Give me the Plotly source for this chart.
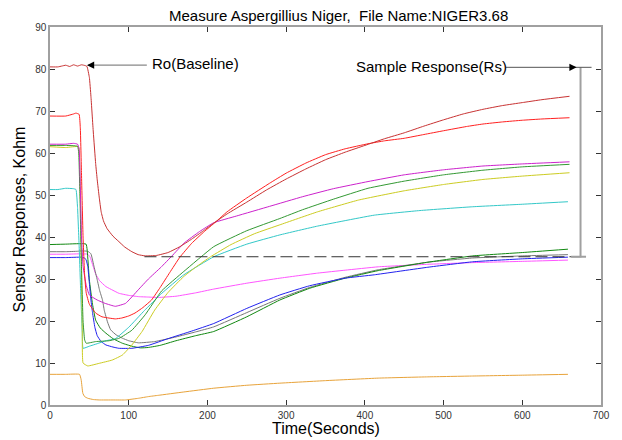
import plotly.graph_objects as go

# ---- data ----
t_darkred = [0, 10, 15, 20, 25, 30, 35, 40, 45, 47, 50, 52, 55, 58, 60, 62.5, 65, 68, 72.5, 80, 87.5, 95, 104, 112, 121, 135, 150, 165, 180, 195, 208, 225, 250, 275, 300, 325, 350, 375, 400, 425, 450, 475, 500, 525, 550, 575, 600, 625, 660]
y_darkred = [80.5, 80.5, 80.7, 80.9, 80.6, 81.0, 80.7, 81.0, 80.8, 80.6, 78, 73.5, 65, 57.5, 53.6, 49.5, 46, 43.8, 42, 40.2, 38.9, 37.6, 36.5, 35.8, 35.5, 35.6, 36.3, 37.7, 39.5, 41.5, 43.3, 45.5, 48.3, 51.2, 53.8, 56.2, 58.4, 60.2, 61.8, 63.4, 64.8, 66.4, 67.9, 69.3, 70.4, 71.3, 72.0, 72.7, 73.5]

t_red = [0, 20, 30, 33, 37, 38.5, 40, 42, 44, 46, 50, 58, 66, 75, 83, 91, 100, 108, 118, 129, 140, 152, 165, 180, 196, 210, 225, 250, 279, 300, 325, 350, 375, 404, 425, 450, 475, 500, 529, 550, 575, 600, 625, 660]
y_red = [68.8, 68.8, 69.3, 69.5, 69.2, 66, 55, 40, 31, 26.7, 24, 21.9, 21, 20.7, 20.5, 20.7, 21.2, 21.9, 23.2, 25, 28, 31.5, 35.2, 38.5, 41.3, 43.5, 46, 49.3, 52.8, 55.2, 57.6, 59.6, 61.0, 62.2, 62.9, 63.5, 64.4, 65.3, 66.3, 66.9, 67.4, 67.8, 68.1, 68.4]

t_magenta = [0, 20, 30, 35, 37, 38.5, 40, 42, 46, 50, 60, 70, 83, 96, 112, 125, 141, 155, 170, 190, 208, 237, 279, 321, 360, 404, 450, 500, 550, 600, 660]
y_magenta = [62.1, 62.1, 62.3, 62.1, 61, 52, 40, 33, 28.5, 26.2, 25, 24.2, 23.5, 24.2, 27.4, 30, 32.8, 35.5, 38.5, 41.3, 43.4, 45, 47.3, 49.6, 51.5, 53.2, 54.8, 56, 56.9, 57.4, 57.9]

t_yellow = [0, 20, 36, 37.5, 39, 40, 41, 42, 48, 62, 79, 92, 104, 117, 133, 150, 170, 185, 204, 230, 260, 292, 340, 392, 450, 500, 550, 600, 660]
y_yellow = [61.5, 61.3, 61.5, 58, 45, 30, 18, 10, 9.3, 9.9, 10.7, 11.9, 14.3, 17.5, 22.6, 26.8, 30.6, 32.8, 35.3, 38.2, 40.8, 42.9, 46, 48.8, 51, 52.5, 53.7, 54.5, 55.3]

t_green1 = [0, 20, 35, 36.5, 38, 40, 42, 44, 46, 58, 75, 88, 104, 121, 142, 170, 208, 250, 292, 321, 360, 404, 450, 500, 550, 600, 660]
y_green1 = [61.8, 61.8, 61.6, 60, 50, 33, 20, 15.5, 14.7, 15.1, 15.3, 15.9, 17.8, 21.5, 27.2, 31.8, 37.7, 41.5, 44.4, 46.5, 49, 51.6, 53.3, 54.8, 55.9, 56.7, 57.3]

t_cyan = [0, 10, 20, 30, 33, 35, 37, 39, 41, 42, 50, 60, 71, 83, 100, 120, 142, 170, 208, 250, 292, 340, 412, 470, 537, 600, 658]
y_cyan = [51.3, 51.3, 51.6, 51.5, 51.3, 47, 38, 27, 17, 13.5, 14, 14.6, 15.3, 15.8, 18.5, 22.5, 26.6, 31, 35.3, 38.3, 40.5, 42.6, 45.2, 46.3, 47.2, 47.8, 48.4]

t_green2 = [0, 20, 45.8, 48, 50, 54, 58, 64, 71, 80, 92, 104, 115, 125, 140, 160, 185, 208, 250, 292, 330, 375, 417, 480, 537, 600, 658]
y_green2 = [38.2, 38.3, 38.3, 35, 29.8, 24, 20.2, 18.3, 17.1, 15.8, 14.7, 14, 13.6, 13.7, 14.2, 15.3, 16.5, 17.5, 21, 25, 27.8, 30.2, 32, 34, 35.5, 36.3, 37.1]

t_gray = [0, 20, 35, 40, 48, 52, 56, 60, 63, 66.7, 69, 73, 77, 84, 92, 100, 112.5, 133, 160, 185, 208, 250, 292, 330, 375, 417, 480, 537, 600, 658]
y_gray = [36.5, 36.5, 36.6, 36.7, 36.6, 36, 32.9, 29.8, 27.3, 25, 22.5, 19.8, 17.9, 16.7, 15.9, 15.3, 14.8, 15.1, 16.2, 17.4, 18.6, 22, 25.4, 28, 30.4, 32.2, 34, 35, 35.5, 35.8]

t_blue = [0, 20, 40, 44, 46, 48, 50, 52, 54, 57, 60, 65, 71, 80, 87.5, 104, 125, 150, 180, 208, 250, 292, 330, 375, 412, 480, 537, 600, 658]
y_blue = [35.1, 35.1, 35.2, 35.0, 34.5, 33, 29, 25, 22, 18.5, 16.5, 15.1, 14.3, 13.8, 13.5, 13.5, 14.2, 15.8, 17.6, 19.4, 23, 26.2, 28.4, 30.2, 31.0, 32.8, 34.1, 34.8, 35.2]

t_pink = [0, 20, 40, 48, 51, 54, 58, 63, 71, 80, 87.5, 100, 112.5, 125, 137.5, 160, 185, 208, 250, 292, 340, 375, 417, 480, 537, 600, 658]
y_pink = [35.9, 35.9, 36.0, 35.9, 35.2, 33.5, 31.2, 29.6, 28.2, 27.3, 26.6, 26.1, 25.8, 25.7, 25.6, 25.9, 26.7, 27.6, 29, 30.2, 31.4, 32.1, 32.9, 33.5, 33.9, 34.2, 34.5]

t_orange = [0, 20, 37.5, 39.6, 41.7, 44, 48, 55, 62.5, 80, 95.8, 112.5, 125, 137.5, 170, 208, 250, 292, 350, 417, 480, 537, 600, 658]
y_orange = [7.3, 7.3, 7.3, 6, 2.8, 2.0, 1.6, 1.3, 1.2, 1.2, 1.2, 1.6, 2.0, 2.3, 3.1, 4.0, 4.7, 5.2, 5.8, 6.4, 6.7, 6.9, 7.1, 7.3]

baseline_level = 35.3
baseline_x = [120, 680]
ro_level = 80.9
rs_level = 80.4
rs_x = 674

x_ticks = [0, 100, 200, 300, 400, 500, 600, 700]
y_ticks = [0, 10, 20, 30, 40, 50, 60, 70, 80, 90]

series = [
    (t_orange, y_orange, "#E8A33A"),
    (t_pink, y_pink, "#FF55FF"),
    (t_gray, y_gray, "#777777"),
    (t_green2, y_green2, "#118811"),
    (t_blue, y_blue, "#2222EE"),
    (t_cyan, y_cyan, "#33C8C8"),
    (t_yellow, y_yellow, "#CCCC22"),
    (t_green1, y_green1, "#339933"),
    (t_magenta, y_magenta, "#CC22CC"),
    (t_red, y_red, "#FF2020"),
    (t_darkred, y_darkred, "#C83232"),
]

fig = go.Figure()
for tx, ty, col in series:
    fig.add_trace(go.Scatter(x=tx, y=ty, mode="lines", line_shape="spline",
                             line=dict(color=col, width=1, smoothing=0.35), showlegend=False))

# dashed baseline reference
fig.add_trace(go.Scatter(x=baseline_x, y=[baseline_level, baseline_level], mode="lines",
                         line=dict(color="#333333", width=1, dash="12px,5px"), showlegend=False))
# vertical response bar
fig.add_trace(go.Scatter(x=[rs_x, rs_x], y=[baseline_level, rs_level], mode="lines",
                         line=dict(color="#A0A0A0", width=2), showlegend=False))
fig.add_trace(go.Scatter(x=[662, 681], y=[baseline_level, baseline_level], mode="lines",
                         line=dict(color="#A0A0A0", width=2), showlegend=False))
# top line for Rs
fig.add_trace(go.Scatter(x=[579, 688], y=[rs_level, rs_level], mode="lines",
                         line=dict(color="#555555", width=1), showlegend=False))
# Ro line
fig.add_trace(go.Scatter(x=[48, 123], y=[ro_level, ro_level], mode="lines",
                         line=dict(color="#888888", width=1.2), showlegend=False))

font_main = "Liberation Sans, Arial, sans-serif"

fig.add_annotation(x=47, y=ro_level, ax=56, ay=ro_level, xref="x", yref="y", axref="x", ayref="y",
                   text="", showarrow=True, arrowhead=2, arrowsize=1.2, arrowwidth=1.2, arrowcolor="#000000")
fig.add_annotation(x=669, y=rs_level, ax=660, ay=rs_level, xref="x", yref="y", axref="x", ayref="y",
                   text="", showarrow=True, arrowhead=2, arrowsize=1.2, arrowwidth=1.2, arrowcolor="#000000")

fig.add_annotation(x=127.5, y=81.2, xref="x", yref="y", text="Ro(Baseline)", showarrow=False,
                   xanchor="left", yanchor="middle", font=dict(family=font_main, size=15, color="#000000"))
fig.add_annotation(x=386, y=80.5, xref="x", yref="y", text="Sample Response(Rs)", showarrow=False,
                   xanchor="left", yanchor="middle", font=dict(family=font_main, size=15, color="#000000"))

fig.add_annotation(x=0.523, y=1.003, xref="paper", yref="paper",
                   text="Measure Aspergillius Niger,&nbsp; File Name:NIGER3.68", showarrow=False,
                   xanchor="center", yanchor="bottom", font=dict(family=font_main, size=15, color="#000000"))
fig.add_annotation(x=0.5, y=-0.062, xref="paper", yref="paper", text="Time(Seconds)", showarrow=False,
                   xanchor="center", yanchor="middle", font=dict(family=font_main, size=16, color="#000000"))
fig.add_annotation(x=-0.055, y=0.49, xref="paper", yref="paper", text="Sensor Responses, Kohm",
                   textangle=-90, showarrow=False, xanchor="center", yanchor="middle",
                   font=dict(family=font_main, size=16, color="#000000"))

axis_common = dict(showline=True, linecolor="#A0A0A0", linewidth=1.5, mirror="ticks",
                   ticks="inside", ticklen=5, tickcolor="#333333", tickwidth=1,
                   showgrid=False, zeroline=False,
                   tickfont=dict(family=font_main, size=10, color="#333333"))

fig.update_xaxes(range=[0, 700], tickvals=x_ticks, ticktext=[str(v) for v in x_ticks], **axis_common)
fig.update_yaxes(range=[0, 90], tickvals=y_ticks, ticktext=[str(v) for v in y_ticks], **axis_common)

# page body has an 8px margin, so the figure is sized/offset to compensate
fig.update_layout(width=614, height=432, margin=dict(l=42, r=12, t=19, b=35),
                  plot_bgcolor="white", paper_bgcolor="white", showlegend=False)

fig.write_html("out.html")
